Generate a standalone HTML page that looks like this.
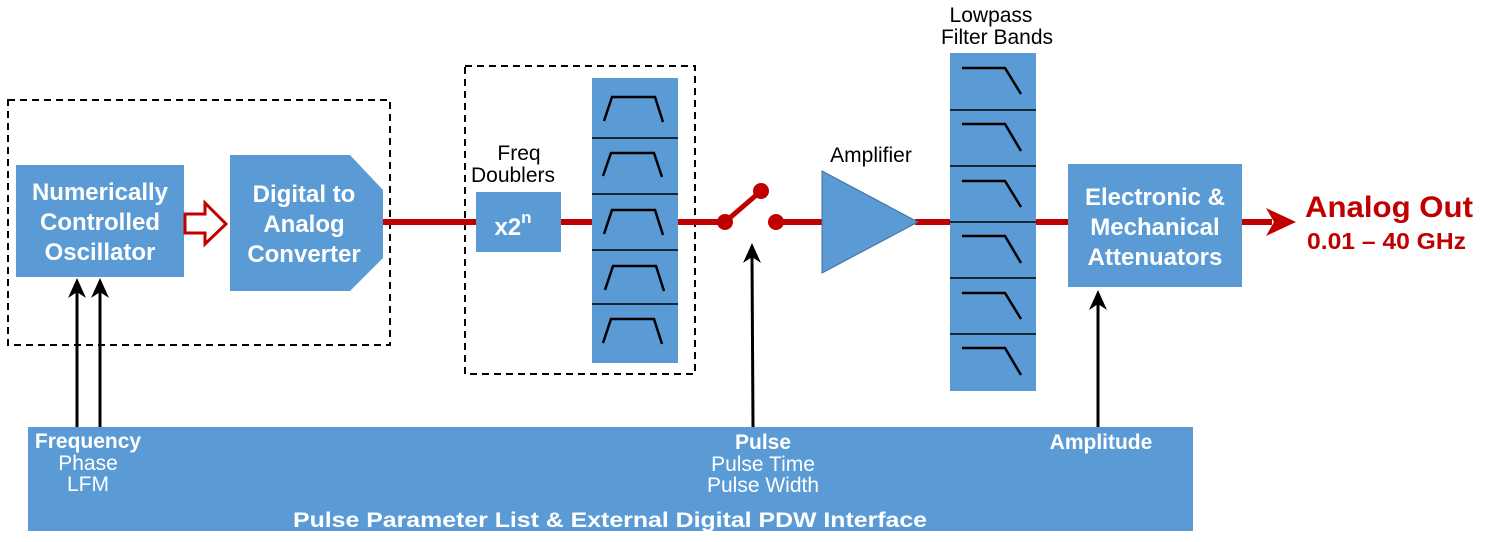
<!DOCTYPE html>
<html><head><meta charset="utf-8"><style>
html,body{margin:0;padding:0;background:#fff;}
svg{display:block;}
text{font-family:"Liberation Sans",Arial,sans-serif;}
.w{fill:#fff;font-weight:bold;font-size:24px;text-anchor:middle;}
.k{fill:#000;font-size:21px;text-anchor:middle;}
.s{fill:#fff;font-size:21px;text-anchor:middle;}
.sb{fill:#fff;font-size:21px;font-weight:bold;text-anchor:middle;}
</style></head><body>
<svg width="1488" height="542" viewBox="0 0 1488 542" xmlns="http://www.w3.org/2000/svg">
<rect x="8" y="100" width="382" height="245" fill="none" stroke="#000" stroke-width="2" stroke-dasharray="7,5"/>
<rect x="465" y="66" width="230" height="308" fill="none" stroke="#000" stroke-width="2" stroke-dasharray="7,5"/>
<line x1="381" y1="222" x2="725" y2="222" stroke="#c00000" stroke-width="6"/>
<line x1="776" y1="222" x2="822" y2="222" stroke="#c00000" stroke-width="6"/>
<line x1="915" y1="222" x2="1068" y2="222" stroke="#c00000" stroke-width="6"/>
<line x1="1241" y1="222" x2="1272" y2="222" stroke="#c00000" stroke-width="6"/>
<polygon points="1266,208 1296,222 1266,236 1274,222" fill="#c00000"/>
<rect x="16" y="165" width="168" height="112" fill="#5b9bd5"/>
<text class="w" x="100" y="200">Numerically</text>
<text class="w" x="100" y="230">Controlled</text>
<text class="w" x="100" y="260">Oscillator</text>
<polygon points="185,214 205,214 205,203 226,224 205,244 205,233 185,233" fill="#fff" stroke="#c00000" stroke-width="3"/>
<polygon points="230,155 350,155 383,190 383,258 350,291 230,291" fill="#5b9bd5"/>
<text class="w" x="304" y="202">Digital to</text>
<text class="w" x="304" y="232">Analog</text>
<text class="w" x="304" y="262">Converter</text>
<text class="k" x="519" y="160" font-size="22">Freq</text>
<text class="k" x="513" y="182" font-size="22">Doublers</text>
<rect x="476" y="192" width="85" height="60" fill="#5b9bd5"/>
<text class="w" x="513" y="235" font-size="28">x2<tspan font-size="17" dy="-12">n</tspan></text>
<rect x="592" y="78" width="86" height="285" fill="#5b9bd5"/>
<g stroke="#000" stroke-width="1.5" fill="none">
<line x1="592" y1="138" x2="678" y2="138"/><line x1="592" y1="194" x2="678" y2="194"/>
<line x1="592" y1="250" x2="678" y2="250"/><line x1="592" y1="304" x2="678" y2="304"/>
</g>
<g stroke="#000" stroke-width="2.5" fill="none">
<polyline points="604,121 612,97 655,97 663,122"/>
<polyline points="603,176 611,153 654,153 662,177"/>
<polyline points="604,234 612,210 655,210 663,235"/>
<polyline points="605,290 613,266 656,266 664,291"/>
<polyline points="603,343 611,319 654,319 662,344"/>
</g>
<line x1="725" y1="222" x2="761" y2="191" stroke="#c00000" stroke-width="5"/>
<circle cx="725" cy="222" r="8" fill="#c00000"/>
<circle cx="761" cy="191" r="8" fill="#c00000"/>
<circle cx="776" cy="222" r="8" fill="#c00000"/>
<text class="k" x="871" y="162">Amplifier</text>
<polygon points="822,171 822,273 918,222" fill="#5b9bd5" stroke="#41719c" stroke-width="1"/>
<text class="k" x="991" y="22">Lowpass</text>
<text class="k" x="997" y="44">Filter Bands</text>
<rect x="950" y="53" width="86" height="338" fill="#5b9bd5"/>
<g stroke="#000" stroke-width="1.5" fill="none">
<line x1="950" y1="110" x2="1036" y2="110"/><line x1="950" y1="166" x2="1036" y2="166"/>
<line x1="950" y1="222" x2="1036" y2="222"/><line x1="950" y1="278" x2="1036" y2="278"/>
<line x1="950" y1="334" x2="1036" y2="334"/>
</g>
<g stroke="#000" stroke-width="2.5" fill="none">
<polyline points="962,68 1005,68 1021,94"/>
<polyline points="962,124 1005,124 1021,151"/>
<polyline points="962,181 1005,181 1021,207"/>
<polyline points="962,236 1005,236 1021,263"/>
<polyline points="962,293 1005,293 1021,319"/>
<polyline points="962,348 1005,348 1021,375"/>
</g>
<rect x="1068" y="164" width="174" height="123" fill="#5b9bd5"/>
<text class="w" x="1155" y="205">Electronic &amp;</text>
<text class="w" x="1155" y="235">Mechanical</text>
<text class="w" x="1155" y="265">Attenuators</text>
<text x="1305" y="217" fill="#c00000" font-weight="bold" font-size="30" textLength="168" lengthAdjust="spacingAndGlyphs">Analog Out</text>
<text x="1307" y="249" fill="#c00000" font-weight="bold" font-size="23" textLength="159" lengthAdjust="spacingAndGlyphs">0.01 – 40 GHz</text>
<rect x="28" y="427" width="1165" height="104" fill="#5b9bd5"/>
<text class="sb" x="88" y="448">Frequency</text>
<text class="s" x="88" y="470">Phase</text>
<text class="s" x="88" y="491">LFM</text>
<text class="sb" x="763" y="449">Pulse</text>
<text class="s" x="763" y="471">Pulse Time</text>
<text class="s" x="763" y="492">Pulse Width</text>
<text class="sb" x="1101" y="449">Amplitude</text>
<text class="sb" x="610" y="527" font-size="23" textLength="634" lengthAdjust="spacingAndGlyphs">Pulse Parameter List &amp; External Digital PDW Interface</text>
<g stroke="#000" stroke-width="3">
<line x1="77" y1="427" x2="77" y2="288"/>
<line x1="100" y1="427" x2="100" y2="288"/>
<line x1="753" y1="427" x2="752" y2="256"/>
<line x1="1098" y1="427" x2="1098" y2="302"/>
</g>
<g fill="#000">
<polygon points="77,278 68,298 77,292 86,298"/>
<polygon points="100,278 91,298 100,292 109,298"/>
<polygon points="752,243 743,263 752,257 761,263"/>
<polygon points="1098,290 1089,310 1098,304 1107,310"/>
</g>
</svg>
</body></html>
